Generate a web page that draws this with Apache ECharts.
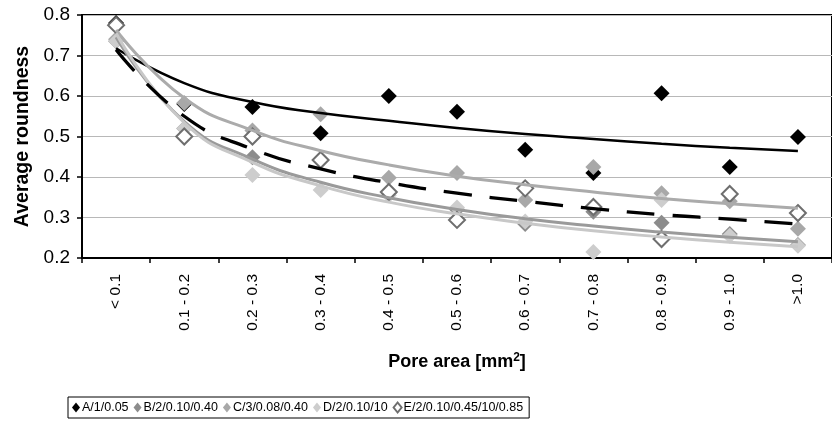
<!DOCTYPE html>
<html>
<head>
<meta charset="utf-8">
<script src="https://cdn.jsdelivr.net/npm/echarts@6/dist/echarts.min.js"></script>
<style>
  html, body { margin: 0; padding: 0; background: #fff; }
  #chart { width: 832px; height: 430px; }
</style>
</head>
<body>
<div id="chart"></div>
<script>
// pore area classes
const categories = ['< 0.1', '0.1 - 0.2', '0.2 - 0.3', '0.3 - 0.4', '0.4 - 0.5', '0.5 - 0.6',
                    '0.6 - 0.7', '0.7 - 0.8', '0.8 - 0.9', '0.9 - 1.0', '>1.0']

const aVals = [0.78, 0.58, 0.573, 0.508, 0.600, 0.561, 0.467, 0.41, 0.607, 0.425, 0.499]
const bVals = [0.735, 0.52, 0.449, 0.44, 0.36, 0.32, 0.284, 0.314, 0.287, 0.259, 0.232]
const cVals = [0.74, 0.583, 0.515, 0.555, 0.398, 0.41, 0.343, 0.425, 0.36, 0.34, 0.272]
const dVals = [0.735, 0.52, 0.405, 0.368, 0.355, 0.325, 0.29, 0.215, 0.343, 0.255, 0.23]
const eVals = [0.775, 0.50, 0.50, 0.442, 0.363, 0.294, 0.372, 0.326, 0.247, 0.358, 0.311]

// trend curves (at each class)
const aTrend = [0.718, 0.632, 0.585, 0.558, 0.539, 0.521, 0.506, 0.494, 0.482, 0.472, 0.464]
const bTrend = [0.745, 0.537, 0.444, 0.387, 0.349, 0.320, 0.297, 0.279, 0.264, 0.251, 0.240]
const cTrend = [0.763, 0.595, 0.515, 0.465, 0.430, 0.402, 0.381, 0.363, 0.347, 0.334, 0.323]
const dTrend = [0.755, 0.534, 0.436, 0.378, 0.338, 0.309, 0.286, 0.267, 0.252, 0.239, 0.228]
const eTrend = [0.714, 0.550, 0.469, 0.420, 0.386, 0.360, 0.340, 0.322, 0.307, 0.296, 0.284]

const names = ['A/1/0.05', 'B/2/0.10/0.40', 'C/3/0.08/0.40', 'D/2/0.10/10', 'E/2/0.10/0.45/10/0.85']
const FONT = 'Liberation Sans, Arial, sans-serif'

const chart = echarts.init(document.getElementById('chart'))

function pts(name, vals, fill, border) {
  return {
    name: name,
    type: 'scatter',
    data: vals,
    symbol: 'diamond',
    symbolSize: 16,
    itemStyle: { color: fill, borderColor: border, borderWidth: border ? 2 : 0, opacity: 1 },
    z: 3
  }
}
function trend(vals, color, width, dash) {
  return {
    type: 'line',
    data: vals,
    smooth: 0.5,
    showSymbol: false,
    silent: true,
    lineStyle: { color: color, width: width, type: dash || 'solid' },
    z: 4
  }
}

chart.setOption({
  animation: false,
  textStyle: { fontFamily: FONT },
  grid: {
    left: 82, top: 15, right: -9, bottom: 172,
    show: true, borderColor: '#000', borderWidth: 2
  },
  legend: {
    data: names.map(n => ({ name: n })),
    left: 68, top: 397,
    icon: 'diamond',
    itemWidth: 8, itemHeight: 10, itemGap: 5,
    padding: [4, 6, 4, 4],
    borderColor: '#000', borderWidth: 1,
    textStyle: { fontFamily: FONT, fontSize: 12.5, color: '#000', padding: [0, 0, 0, -3] }
  },
  xAxis: {
    type: 'category',
    data: categories,
    boundaryGap: true,
    name: '{a|Pore area [mm}{b|2}{a|]}',
    nameLocation: 'middle',
    nameGap: 94,
    nameTextStyle: {
      rich: {
        a: { fontFamily: FONT, fontSize: 18, fontWeight: 'bold', color: '#000' },
        b: { fontFamily: FONT, fontSize: 12, fontWeight: 'bold', color: '#000', verticalAlign: 'top', padding: [0, 0, 9, 0] }
      }
    },
    axisLine: { lineStyle: { color: '#000', width: 2 } },
    axisTick: { show: true, inside: false, length: 5, lineStyle: { color: '#000', width: 1.5 } },
    axisLabel: { rotate: 90, margin: 16, fontSize: 15.5, color: '#000', fontFamily: FONT, interval: 0 },
    splitLine: { show: false }
  },
  yAxis: {
    type: 'value',
    min: 0.2, max: 0.8, interval: 0.1,
    name: 'Average roundness',
    nameLocation: 'middle',
    nameGap: 48,
    nameTextStyle: { fontFamily: FONT, fontSize: 19.5, fontWeight: 'bold', color: '#000' },
    axisLine: { show: true, lineStyle: { color: '#000', width: 2 } },
    axisTick: { show: true, length: 5, lineStyle: { color: '#000', width: 1.5 } },
    axisLabel: { margin: 12, fontSize: 19, color: '#000', fontFamily: FONT, formatter: v => v.toFixed(1) },
    splitLine: { lineStyle: { color: '#b8b8b8', width: 1 } }
  },
  series: [
    pts(names[0], aVals, '#000000'),
    pts(names[1], bVals, '#8c8c8c'),
    pts(names[2], cVals, '#a8a8a8'),
    pts(names[3], dVals, '#cdcdcd'),
    pts(names[4], eVals, '#ffffff', '#6e6e6e'),
    trend(aTrend, '#000000', 2.5),
    trend(bTrend, '#9a9a9a', 3),
    trend(cTrend, '#ababab', 3),
    trend(dTrend, '#c8c8c8', 3),
    trend(eTrend, '#000000', 3.3, [28, 18])
  ]
})
</script>
</body>
</html>
